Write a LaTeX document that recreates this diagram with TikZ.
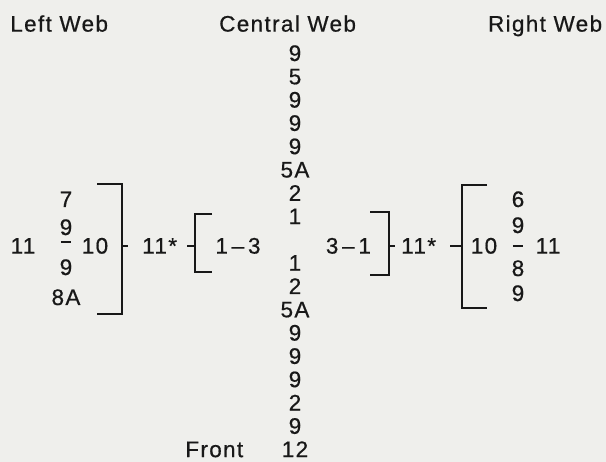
\documentclass[tikz,border=0pt]{standalone}
\usepackage{fontspec}
\setmainfont[LetterSpace=6, FakeBold=0.6]{Liberation Sans}
\usetikzlibrary{calc, positioning}
\definecolor{papercol}{RGB}{239, 239, 236}
\definecolor{inkcol}{RGB}{24, 24, 24}
\tikzset{
  num/.style  = {font=\fontsize{16}{18}\selectfont, text=inkcol,
                 inner sep=0pt, anchor=base},
  brk/.style  = {draw=inkcol, line width=1.4pt},
  % the short bar of each web reads as a fraction stroke, not a dash
  bar/.style  = {draw=inkcol, line width=1.4pt},
  tick/.style = {draw=inkcol, line width=1.4pt},
}

\begin{document}
\begin{tikzpicture}

  \fill[papercol] (0,0) rectangle (151.5mm,-115.5mm);
  \useasboundingbox (0,0) rectangle (151.5mm,-115.5mm);

  %% ---------------- the headings ----------------
  \node[num, anchor=base west] (lweb) at (2.5mm,-7.9mm)  {Left Web};
  \node[num]                   (cweb) at (71.9mm,-7.9mm) {Central Web};
  \node[num, anchor=base east] (rweb) at (150.6mm,-7.9mm) {Right Web};

  %% ---------------- the central web ----------------
  \foreach \i/\t in {0/9, 1/5, 2/9, 3/9, 4/9, 5/5A, 6/2, 7/1,
                     9/1, 10/2, 11/5A, 12/9, 13/9, 14/9, 15/2, 16/9, 17/12}
    \node[num] (c\i) at ($(73.75mm,-15.25mm)+(0,-\i*5.825mm)$) {\t};

  \node[num, anchor=base east] (front) at ($(c17.base west)+(-9.5mm,0)$)
       {Front};

  %% ---------------- the left web ----------------
  \node[num] (l11) at (5.75mm,-63.4mm)  {11};
  \node[num] (l7)  at (16.5mm,-51.75mm) {7};
  \node[num] (l9a) at (16.5mm,-58.75mm) {9};
  \node[num] (l9b) at (16.5mm,-68.75mm) {9};
  \node[num] (l8a) at (16.5mm,-76.25mm) {8A};
  \node[num] (l10) at (23.75mm,-63.4mm) {10};
  \coordinate (lbar) at (16.5mm,-60.6mm);
  \draw[bar] ($(lbar)+(-1.3mm,0)$) -- ($(lbar)+(1.3mm,0)$);

  \draw[brk] (24.25mm,-46mm) -| (30.5mm,-78.5mm) coordinate (lbrk)
             -- (24.25mm,-78.5mm);
  \coordinate (lt1) at (30.5mm,-61.4mm);
  \draw[tick] (lt1) -- ++(1.6mm,0);

  \node[num, anchor=base west] (lstar) at (35.5mm,-63.4mm) {11*};

  \coordinate (lt2) at (48.75mm,-61.4mm);
  \draw[tick] (lt2) -- ++(-2mm,0);
  \draw[brk] (53mm,-53.4mm) -| (48.75mm,-68.1mm) -- (53mm,-68.1mm);

  \node[num] (lmid) at (59.5mm,-63.4mm) {1\,\textendash\,3};

  %% ---------------- the right web ----------------
  \node[num] (rmid) at (87.1mm,-63.4mm) {3\,\textendash\,1};

  \draw[brk] (92.5mm,-53mm) -| (97.25mm,-68.75mm) -- (92.5mm,-68.75mm);
  \coordinate (rt1) at (97.25mm,-61.4mm);
  \draw[tick] (rt1) -- ++(1.5mm,0);

  \node[num, anchor=base west] (rstar) at (100.25mm,-63.4mm) {11*};

  \coordinate (rt2) at (115.5mm,-61.4mm);
  \draw[tick] (rt2) -- ++(-3mm,0);
  \draw[brk] (121.75mm,-46.25mm) -| (115.5mm,-77mm) -- (121.75mm,-77mm);

  \node[num] (r10) at (121mm,-63.4mm)   {10};
  \node[num] (r6)  at (129.5mm,-51.75mm) {6};
  \node[num] (r9a) at (129.5mm,-58.25mm) {9};
  \node[num] (r8)  at (129.5mm,-69mm)    {8};
  \node[num] (r9b) at (129.5mm,-75.25mm) {9};
  \node[num] (r11) at (137mm,-63.4mm)   {11};
  \coordinate (rbar) at (129.5mm,-61.5mm);
  \draw[bar] ($(rbar)+(-1.3mm,0)$) -- ($(rbar)+(1.3mm,0)$);

\end{tikzpicture}
\end{document}
